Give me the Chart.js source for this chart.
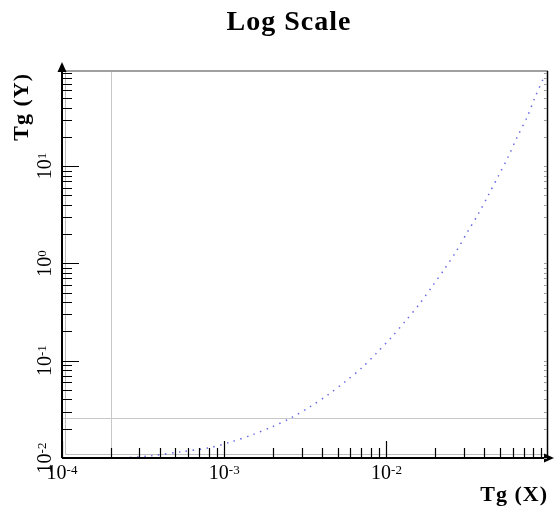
<!DOCTYPE html>
<html>
<head>
<meta charset="utf-8">
<script src="https://cdn.jsdelivr.net/npm/chart.js@4/dist/chart.umd.min.js"></script>
<style>
  body { margin: 0; background: #fff; }
  canvas { display: block; }
</style>
</head>
<body>
<canvas id="mainChart" width="554" height="516"></canvas>
<script>
// -- data --
const curveX = [1.6e-4, 2.44e-4, 3.58e-4, 5.47e-4, 8.13e-4, 1.109e-3, 1.493e-3, 1.977e-3,
  2.59e-3, 3.38e-3, 4.37e-3, 5.55e-3, 7.05e-3, 8.71e-3, 0.01078, 0.01312, 0.01599,
  0.01923, 0.0228, 0.027, 0.03155, 0.0368, 0.0425, 0.0489, 0.0562, 0.0639, 0.0736,
  0.0824, 0.0935];
const curveY = [0.0100, 0.01007, 0.01057, 0.01161, 0.01276, 0.0147, 0.01734, 0.02095,
  0.02595, 0.03365, 0.0447, 0.0607, 0.0845, 0.1205, 0.1758, 0.257, 0.384,
  0.588, 0.878, 1.343, 2.10, 3.22, 5.05, 7.91, 12.4, 19.9, 31.9,
  51.2, 82.2];

// -- axis ranges and ticks --
const xRange = [1e-4, 0.099];
const yRange = [0.01, 95];
const xMajor = [1e-4, 1e-3, 1e-2];
const xTickExp = ["-4", "-3", "-2"];
const yMajor = [0.01, 0.1, 1, 10];
const yTickExp = ["-2", "-1", "0", "1"];
const refX = [2e-4];   // vertical gray line
const refY = [0.026];  // horizontal gray line

const titleText = "Log Scale";
const xTitle = "Tg (X)";
const yTitle = "Tg (Y)";

// minor ticks 2..9 of every decade inside the range
function minorTicks(min, max) {
  const out = [];
  for (let d = Math.floor(Math.log10(min)); d <= Math.ceil(Math.log10(max)); d++) {
    for (let m = 1; m <= 9; m++) {
      const v = m * Math.pow(10, d);
      if (v >= min * 0.999 && v <= max * 1.001) out.push(v);
    }
  }
  return out;
}

// -- "10" with a superscript exponent --
function drawPower(ctx, exp, cx, baseY) {
  ctx.font = "20px 'Liberation Serif'";
  const w1 = ctx.measureText("10").width;
  ctx.font = "13px 'Liberation Serif'";
  const w2 = ctx.measureText(exp).width;
  const x0 = cx - (w1 + w2) / 2;
  ctx.textAlign = "left";
  ctx.textBaseline = "alphabetic";
  ctx.font = "20px 'Liberation Serif'";
  ctx.fillText("10", x0, baseY);
  ctx.font = "13px 'Liberation Serif'";
  ctx.fillText(exp, x0 + w1, baseY - 5);
}

// -- frame and gray lines, under the curve --
const framePlugin = {
  id: "frame",
  beforeDatasetsDraw(chart) {
    const { ctx, chartArea: a, scales } = chart;
    ctx.save();
    ctx.strokeStyle = "#c8c8c8";
    ctx.lineWidth = 1;
    refX.forEach((v) => {
      const px = Math.round(scales.x.getPixelForValue(v)) + 0.5;
      ctx.beginPath();
      ctx.moveTo(px, a.top);
      ctx.lineTo(px, a.bottom);
      ctx.stroke();
    });
    refY.forEach((v) => {
      const py = Math.round(scales.y.getPixelForValue(v)) + 0.5;
      ctx.beginPath();
      ctx.moveTo(a.left, py);
      ctx.lineTo(a.right, py);
      ctx.stroke();
    });
    // inner frame lines
    ctx.strokeStyle = "#bdbdbd";
    ctx.beginPath();
    ctx.moveTo(a.left + 3.5, a.top);
    ctx.lineTo(a.left + 3.5, a.bottom - 3.5);
    ctx.lineTo(a.right, a.bottom - 3.5);
    ctx.stroke();
    // top border
    ctx.strokeStyle = "#a0a0a0";
    ctx.lineWidth = 2;
    ctx.beginPath();
    ctx.moveTo(a.left, a.top);
    ctx.lineTo(a.right, a.top);
    ctx.stroke();
    ctx.restore();
  },
  afterDatasetsDraw(chart) {
    const { ctx, chartArea: a, scales } = chart;
    const xs = scales.x, ys = scales.y;
    ctx.save();
    ctx.strokeStyle = "#000";
    ctx.fillStyle = "#000";

    // right border
    ctx.lineWidth = 1.5;
    ctx.beginPath();
    ctx.moveTo(a.right - 0.5, a.top);
    ctx.lineTo(a.right - 0.5, a.bottom);
    ctx.stroke();

    // axis lines
    ctx.lineWidth = 2;
    ctx.beginPath();
    ctx.moveTo(a.left, a.bottom);
    ctx.lineTo(a.right + 1, a.bottom);
    ctx.moveTo(a.left, a.bottom);
    ctx.lineTo(a.left, a.top - 1);
    ctx.stroke();

    // arrows
    ctx.beginPath();
    ctx.moveTo(a.right + 6, a.bottom);
    ctx.lineTo(a.right - 4, a.bottom - 4.5);
    ctx.lineTo(a.right - 4, a.bottom + 4.5);
    ctx.closePath();
    ctx.fill();
    ctx.beginPath();
    ctx.moveTo(a.left, a.top - 9);
    ctx.lineTo(a.left - 4.5, a.top + 1);
    ctx.lineTo(a.left + 4.5, a.top + 1);
    ctx.closePath();
    ctx.fill();

    // ticks
    ctx.lineWidth = 1.2;
    ctx.beginPath();
    minorTicks(xRange[0], xRange[1]).forEach((v) => {
      const px = Math.round(xs.getPixelForValue(v)) + 0.5;
      const len = xMajor.includes(v) ? 17 : 10;
      ctx.moveTo(px, a.bottom);
      ctx.lineTo(px, a.bottom - len);
    });
    minorTicks(yRange[0], yRange[1]).forEach((v) => {
      const py = Math.round(ys.getPixelForValue(v)) + 0.5;
      const len = yMajor.some((m) => Math.abs(m - v) < m * 1e-6) ? 17 : 10;
      ctx.moveTo(a.left, py);
      ctx.lineTo(a.left + len, py);
    });
    ctx.stroke();

    // faint mirrored ticks on the right side
    ctx.strokeStyle = "#9a9a9a";
    ctx.lineWidth = 1;
    ctx.beginPath();
    minorTicks(yRange[0], yRange[1]).forEach((v) => {
      const py = Math.round(ys.getPixelForValue(v)) + 0.5;
      ctx.moveTo(a.right - 1, py);
      ctx.lineTo(a.right - 4, py);
    });
    ctx.stroke();

    // tick labels
    ctx.fillStyle = "#000";
    xMajor.forEach((v, i) => {
      drawPower(ctx, xTickExp[i], xs.getPixelForValue(v), a.bottom + 21);
    });
    yMajor.forEach((v, i) => {
      ctx.save();
      ctx.translate(51, ys.getPixelForValue(v));
      ctx.rotate(-Math.PI / 2);
      drawPower(ctx, yTickExp[i], 0, 0);
      ctx.restore();
    });

    // titles
    ctx.font = "bold 28px 'Liberation Serif'";
    ctx.letterSpacing = "1px";
    ctx.textAlign = "center";
    ctx.textBaseline = "alphabetic";
    ctx.fillText(titleText, 289, 30);

    ctx.font = "bold 22px 'Liberation Serif'";
    ctx.letterSpacing = "1px";
    ctx.textAlign = "right";
    ctx.fillText(xTitle, a.right, 501);

    ctx.save();
    ctx.translate(28, a.top + 2);
    ctx.rotate(-Math.PI / 2);
    ctx.textAlign = "right";
    ctx.fillText(yTitle, 0, 0);
    ctx.restore();
    ctx.letterSpacing = "0px";

    ctx.restore();
  },
};

const ctx = document.getElementById("mainChart").getContext("2d");
new Chart(ctx, {
  type: "scatter",
  data: {
    datasets: [
      {
        label: "curve",
        data: curveX.map((x, i) => ({ x: x, y: curveY[i] })),
        showLine: true,
        borderColor: "rgba(80, 80, 225, 0.85)",
        borderWidth: 1.5,
        borderDash: [1.5, 5.5],
        pointRadius: 0,
        tension: 0.3,
        fill: false,
      },
    ],
  },
  options: {
    responsive: false,
    animation: false,
    layout: {
      padding: { left: 62, right: 6, top: 71, bottom: 58 },
    },
    scales: {
      x: { type: "logarithmic", min: xRange[0], max: xRange[1], display: false },
      y: { type: "logarithmic", min: yRange[0], max: yRange[1], display: false },
    },
    plugins: {
      legend: { display: false },
      tooltip: { enabled: false },
      title: { display: false },
    },
  },
  plugins: [framePlugin],
});
</script>
</body>
</html>
